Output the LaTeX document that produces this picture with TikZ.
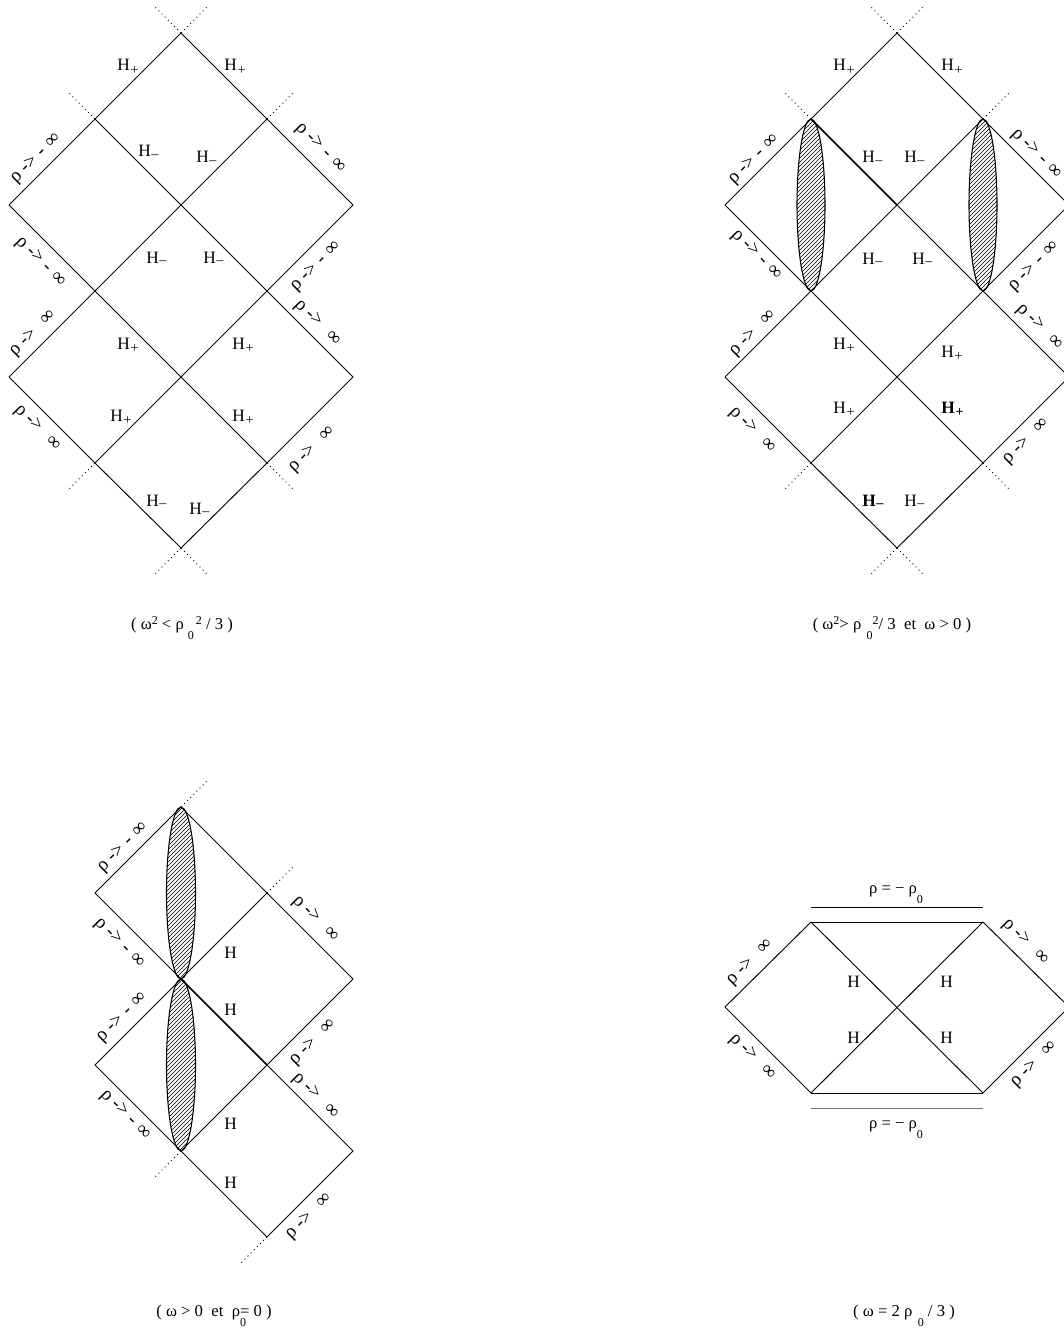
\documentclass[tikz,border=0pt]{standalone}
\usepackage{fontspec}
\setmainfont{Liberation Serif}
\usetikzlibrary{patterns}
\newcommand{\mylo}[1]{\raisebox{-7.5pt}{\fontsize{9}{9}\selectfont #1}}
\newcommand{\myhi}[1]{\raisebox{3.5pt}{\fontsize{9}{9}\selectfont #1}}
\newcommand{\Hp}{H\hspace{0.6pt}\raisebox{-2.8pt}{\fontsize{10.5}{10}\selectfont +}}
\newcommand{\Hm}{H\hspace{0.4pt}\raisebox{-1.4pt}{\fontsize{10.5}{10}\selectfont –}}
\newcommand{\rmi}{ρ\hspace{3.5pt}->\hspace{4pt}-\hspace{4.5pt}∞}
\newcommand{\rpi}{ρ\hspace{3.5pt}->\hspace{9pt}∞}
\newcommand{\diamgrid}[2]{%
\coordinate (#1t) at ({#2+181},33);
\coordinate (#1ul) at ({#2+95},119);
\coordinate (#1ur) at ({#2+267},119);
\coordinate (#1lA) at ({#2+9},205);
\coordinate (#1cA) at ({#2+181},205);
\coordinate (#1rA) at ({#2+353},205);
\coordinate (#1ml) at ({#2+95},291);
\coordinate (#1mr) at ({#2+267},291);
\coordinate (#1lB) at ({#2+9},377);
\coordinate (#1cB) at ({#2+181},377);
\coordinate (#1rB) at ({#2+353},377);
\coordinate (#1ll) at ({#2+95},463);
\coordinate (#1lr) at ({#2+267},463);
\coordinate (#1b) at ({#2+181},548);
\coordinate (#1ea) at ({#2+153},5);
\coordinate (#1eb) at ({#2+209},5);
\coordinate (#1ec) at ({#2+67},91);
\coordinate (#1ed) at ({#2+295},91);
\coordinate (#1ee) at ({#2+67},491);
\coordinate (#1ef) at ({#2+295},491);
\coordinate (#1eg) at ({#2+153},576);
\coordinate (#1eh) at ({#2+209},576);
\draw[ln] (#1t) -- (#1ul) -- (#1lA);
\draw[ln] (#1t) -- (#1ur) -- (#1rA);
\draw[ln] (#1ul) -- (#1cA) -- (#1mr) -- (#1rB);
\draw[ln] (#1ur) -- (#1cA) -- (#1ml) -- (#1lB);
\draw[ln] (#1lA) -- (#1ml) -- (#1cB) -- (#1lr);
\draw[ln] (#1rA) -- (#1mr) -- (#1cB) -- (#1ll);
\draw[ln] (#1lB) -- (#1ll) -- (#1b);
\draw[ln] (#1rB) -- (#1lr) -- (#1b);
\draw[dotl] (#1t) -- (#1ea);
\draw[dotl] (#1t) -- (#1eb);
\draw[dotl] (#1ul) -- (#1ec);
\draw[dotl] (#1ur) -- (#1ed);
\draw[dotl] (#1ll) -- (#1ee);
\draw[dotl] (#1lr) -- (#1ef);
\draw[dotl] (#1b) -- (#1eg);
\draw[dotl] (#1b) -- (#1eh);
}
\begin{document}
\begin{tikzpicture}[x=0.75pt,y=-0.75pt,
  ln/.style={line width=0.7pt},
  bln/.style={line width=1.2pt},
  dotl/.style={line width=0.7pt,dash pattern=on 0.7pt off 2.6pt},
  hl/.style={inner sep=0pt,anchor=base west,font=\fontsize{13}{15}\selectfont},
  rl/.style={inner sep=0pt,anchor=center,font=\fontsize{14.5}{16}\selectfont},
  captxt/.style={inner sep=0pt,anchor=base,font=\fontsize{12.5}{15}\selectfont},
  lens/.style={line width=0.8pt,pattern=north east lines}]
\useasboundingbox (0,0) rectangle (1063,1330);

% ---------- diagram 1 ----------
\diamgrid{A}{0}
\node[hl] (a1) at (117,71) {\Hp};
\node[hl] (a2) at (224,71) {\Hp};
\node[hl] (a3) at (138,157) {\Hm};
\node[hl] (a4) at (196,163) {\Hm};
\node[hl] (a5) at (146,263) {\Hm};
\node[hl] (a6) at (203,263) {\Hm};
\node[hl] (a7) at (117,349) {\Hp};
\node[hl] (a8) at (232,349) {\Hp};
\node[hl] (a9) at (110,421) {\Hp};
\node[hl] (a10) at (232,421) {\Hp};
\node[hl] (a11) at (146,506) {\Hm};
\node[hl] (a12) at (189,514) {\Hm};
\node[rl,rotate=45] (ar1) at (36,159) {\rmi};
\node[rl,rotate=-45] (ar2) at (320,148) {\rmi};
\node[rl,rotate=-45] (ar3) at (40,262) {\rmi};
\node[rl,rotate=45] (ar4) at (316,267) {\rmi};
\node[rl,rotate=45] (ar5) at (33,334) {\rpi};
\node[rl,rotate=-45] (ar6) at (317,323) {\rpi};
\node[rl,rotate=-45] (ar7) at (37,428) {\rpi};
\node[rl,rotate=45] (ar8) at (312,450) {\rpi};
\node[captxt] (acap) at (182,629) {( ω\myhi{2} < ρ\hspace{3pt}\mylo{0}\hspace{1.5pt}\myhi{2} / 3 )};

% ---------- diagram 2 ----------
\diamgrid{B}{716}
\draw[bln] (Bul) -- (BcA);
\draw[lens] (811,205) ellipse [x radius=14, y radius=86];
\draw[lens] (983,205) ellipse [x radius=14, y radius=86];
\node[hl] (b1) at (833,71) {\Hp};
\node[hl] (b2) at (941,71) {\Hp};
\node[hl] (b3) at (862,163) {\Hm};
\node[hl] (b4) at (904,163) {\Hm};
\node[hl] (b5) at (862,264) {\Hm};
\node[hl] (b6) at (912,264) {\Hm};
\node[hl] (b7) at (833,349) {\Hp};
\node[hl] (b8) at (941,357) {\Hp};
\node[hl] (b9) at (833,413) {\Hp};
\node[hl] (b10) at (941,413) {\bfseries\Hp};
\node[hl] (b11) at (862,506) {\bfseries\Hm};
\node[hl] (b12) at (904,506) {\Hm};
\node[rl,rotate=45] (br1) at (754,160) {\rmi};
\node[rl,rotate=-45] (br2) at (1036,154) {\rmi};
\node[rl,rotate=-45] (br3) at (756,255) {\rmi};
\node[rl,rotate=45] (br4) at (1034,267) {\rmi};
\node[rl,rotate=45] (br5) at (753,334) {\rpi};
\node[rl,rotate=-45] (br6) at (1039,327) {\rpi};
\node[rl,rotate=-45] (br7) at (752,430) {\rpi};
\node[rl,rotate=45] (br8) at (1026,442) {\rpi};
\node[captxt] (bcap) at (892,629) {( ω\myhi{2}> ρ\hspace{4pt}\mylo{0}\myhi{2}/ 3\ \ et\ \ ω > 0 )};

% ---------- diagram 3 ----------
\coordinate (Ct) at (181,807);
\coordinate (Cl1) at (95,893);
\coordinate (Cr1) at (267,893);
\coordinate (Cc1) at (181,979);
\coordinate (Cr2) at (353,979);
\coordinate (Cl2) at (95,1065);
\coordinate (Cc2) at (267,1065);
\coordinate (Cb1) at (181,1151);
\coordinate (Cr3) at (353,1151);
\coordinate (Cb2) at (267,1237);
\coordinate (Cea) at (209,779);
\coordinate (Ceb) at (295,865);
\coordinate (Cec) at (153,1179);
\coordinate (Ced) at (239,1265);
\draw[ln] (Ct) -- (Cl1);
\draw[ln] (Ct) -- (Cr1) -- (Cr2);
\draw[ln] (Cl1) -- (Cc1);
\draw[bln] (Cc1) -- (Cc2);
\draw[ln] (Cc2) -- (Cr3);
\draw[ln] (Cr1) -- (Cc1) -- (Cl2);
\draw[ln] (Cr2) -- (Cc2) -- (Cb1);
\draw[ln] (Cl2) -- (Cb1) -- (Cb2);
\draw[ln] (Cr3) -- (Cb2);
\draw[dotl] (Ct) -- (Cea);
\draw[dotl] (Cr1) -- (Ceb);
\draw[dotl] (Cb1) -- (Cec);
\draw[dotl] (Cb2) -- (Ced);
\draw[lens] (181,893) ellipse [x radius=14.5, y radius=86];
\draw[lens] (181,1065) ellipse [x radius=14.5, y radius=86];
\node[hl] (c1) at (224,958) {H};
\node[hl] (c2) at (224,1015) {H};
\node[hl] (c3) at (224,1129) {H};
\node[hl] (c4) at (224,1188) {H};
\node[rl,rotate=45] (cr1) at (123,848) {\rmi};
\node[rl,rotate=-45] (cr2) at (315,919) {\rpi};
\node[rl,rotate=-45] (cr3) at (119,943) {\rmi};
\node[rl,rotate=45] (cr4) at (122,1018) {\rmi};
\node[rl,rotate=45] (cr5) at (313,1043) {\rpi};
\node[rl,rotate=-45] (cr6) at (315,1096) {\rpi};
\node[rl,rotate=-45] (cr7) at (125,1115) {\rmi};
\node[rl,rotate=45] (cr8) at (309,1217) {\rpi};
\node[captxt] (ccap) at (214,1316) {( ω > 0\ \ et\ \ ρ\rlap{\mylo{0}}= 0 )};

% ---------- diagram 4 ----------
\coordinate (Dtl) at (811,922);
\coordinate (Dtr) at (983,922);
\coordinate (Dl) at (725,1007);
\coordinate (Dr) at (1069,1007);
\coordinate (Dbl) at (811,1093);
\coordinate (Dbr) at (983,1093);
\coordinate (Dal) at (811,907);
\coordinate (Dar) at (983,907);
\coordinate (Dbl2) at (811,1108);
\coordinate (Dbr2) at (983,1108);
\draw[ln] (Dtl) -- (Dtr);
\draw[ln] (Dbl) -- (Dbr);
\draw[ln] (Dtl) -- (Dbr);
\draw[ln] (Dtr) -- (Dbl);
\draw[ln] (Dtl) -- (Dl) -- (Dbl);
\draw[ln] (Dtr) -- (Dr) -- (Dbr);
\draw[ln] (Dal) -- (Dar);
\draw[ln,black!55] (Dbl2) -- (Dbr2);
\node[captxt] (dtop) at (896,893) {ρ = − ρ\mylo{0}};
\node[captxt] (dbot) at (896,1128) {ρ = − ρ\mylo{0}};
\node[hl] (d1) at (847,987) {H};
\node[hl] (d2) at (940,987) {H};
\node[hl] (d3) at (847,1043) {H};
\node[hl] (d4) at (940,1043) {H};
\node[rl,rotate=45] (dr1) at (750,963) {\rpi};
\node[rl,rotate=-45] (dr2) at (752,1057) {\rpi};
\node[rl,rotate=-45] (dr3) at (1025,942) {\rpi};
\node[rl,rotate=45] (dr4) at (1034,1065) {\rpi};
\node[captxt] (dcap) at (904,1316) {( ω = 2 ρ\hspace{4pt}\mylo{0} / 3 )};
\end{tikzpicture}
\end{document}
